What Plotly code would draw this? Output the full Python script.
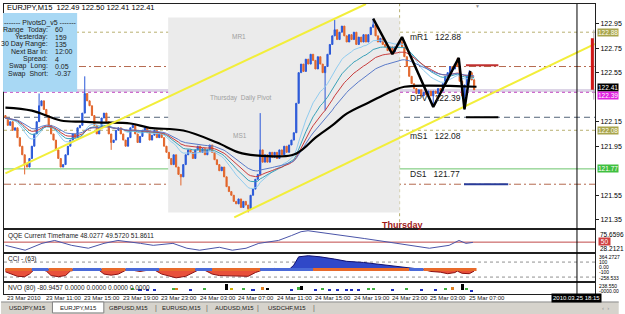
import plotly.graph_objects as go
from plotly.subplots import make_subplots

# ---------------- DATA ----------------
# M15 closes, bar 0 = 23 Mar 2010 07:00 (16 bars per 4 hours)
closes = [
    122.18, 122.12, 122.15, 122.08, 122.10, 122.02, 121.95, 121.88, 121.80, 121.78, 121.85, 121.95, 122.05, 122.15, 122.28, 122.32,
    122.25, 122.20, 122.12, 122.05, 122.00, 121.92, 121.85, 121.78, 121.80, 121.88, 121.95, 122.00, 122.05, 122.02, 122.10, 122.12,
    122.22, 122.38, 122.32, 122.28, 122.20, 122.12, 122.05, 122.10, 122.18, 122.22, 122.15, 122.05, 121.98, 122.00, 122.08, 122.10,
    122.05, 122.00, 121.95, 122.02, 122.10, 122.12, 122.05, 121.98, 122.03, 122.08, 122.10, 122.06, 122.00, 122.04, 122.08, 122.02,
    122.05, 122.02, 121.95, 121.90, 121.85, 121.80, 121.88, 121.78, 121.72, 121.70, 121.80, 121.88, 121.92, 121.90, 121.85, 121.92,
    121.95, 121.90, 121.93, 121.88, 121.92, 121.96, 121.90, 121.84, 121.80, 121.75, 121.78, 121.70, 121.62, 121.58, 121.55, 121.50,
    121.48, 121.52, 121.45, 121.50, 121.47, 121.44, 121.55, 121.60, 121.68, 121.72, 121.92, 121.82, 121.88, 121.82, 121.90, 121.86,
    121.90, 121.85, 121.92, 121.88, 121.95, 121.90, 121.96, 122.00, 122.06, 122.30, 122.55, 122.62, 122.56, 122.66, 122.62, 122.70,
    122.65, 122.58, 122.68, 122.62, 122.55, 122.60, 122.70, 122.78, 122.85, 122.90, 122.82, 122.88, 122.93, 122.85, 122.80, 122.86,
    122.82, 122.88, 122.78, 122.84, 122.80, 122.86, 122.80, 122.86, 122.92, 122.94, 122.85, 122.80, 122.83, 122.78, 122.76, 122.73,
    122.76, 122.72, 122.76, 122.78, 122.80, 122.76, 122.68, 122.60, 122.52, 122.46, 122.42, 122.38, 122.41, 122.36, 122.39, 122.37,
    122.40, 122.36, 122.40, 122.38, 122.42, 122.40, 122.46, 122.52, 122.55, 122.60, 122.58, 122.62, 122.60, 122.48, 122.36, 122.45,
    122.52, 122.55, 122.49, 122.41,
]
first_open = 122.20
spike_high = {14: 122.38, 33: 122.52, 106: 122.22, 137: 122.98, 153: 122.99, 165: 122.84, 188: 122.67, 193: 122.57, 195: 122.50}
spike_low = {8: 121.72, 44: 121.92, 73: 121.63, 101: 121.41, 133: 122.24, 161: 122.70, 178: 122.27, 191: 122.25}

tick_bars = [0, 16, 32, 48, 64, 80, 96, 112, 128, 144, 160, 176, 192]
tick_labels = ["23 Mar 2010", "23 Mar 11:00", "23 Mar 15:00", "23 Mar 19:00", "23 Mar 23:00", "24 Mar 03:00",
               "24 Mar 07:00", "24 Mar 11:00", "24 Mar 15:00", "24 Mar 19:00", "24 Mar 23:00", "25 Mar 03:00", "25 Mar 07:00"]

# slow black MA
black_ma_x = [0, 11, 23, 32, 40, 52, 60, 74, 88, 97, 104, 119, 124, 129, 136, 142, 151, 156, 161, 166, 196]
black_ma_y = [122.265, 122.24, 122.16, 122.15, 122.143, 122.135, 122.10, 122.078, 121.98, 121.90, 121.876, 121.876,
              121.93, 122.02, 122.12, 122.216, 122.305, 122.354, 122.40, 122.435, 122.435]
ema_periods = [18, 26, 34, 45]
ema_colors = ["#8fcbef", "#38a0b8", "#c83c3c", "#5a7ac8"]

zigzag_x = [153, 161, 165, 178, 188.6, 191, 193.4]
zigzag_y = [122.99, 122.70, 122.84, 122.27, 122.67, 122.25, 122.565]

upper_trend_x = [0, 150.0]
upper_trend_y = [121.728, 123.11]
lower_trend_x = [95.2, 245.3]
lower_trend_y = [121.37, 122.785]

prev_day_x = [67.7, 164]
prev_day_range = [121.41, 123.00]
day_sep_bar = 164

pivot_prices = [122.88, 122.60, 122.405, 122.39, 122.186, 122.08, 121.765, 121.64]
pivot_colors = ["#b8b070", "#b56a50", "#dcd4e6", "#c040c0", "#55657a", "#b8b070", "#6cc46c", "#b56a50"]
pivot_dash = ["dot", "7px,3px,2px,3px", "solid", "dot", "6px,4px", "dot", "solid", "7px,3px,2px,3px"]
pivot_width = [1, 1, 3, 1, 1, 1, 1, 1]

short_lines = [(191.6, 205.1, 122.61, "#c03030"), (191.6, 205.1, 122.186, "#000000"), (190.8, 209.2, 121.64, "#283c9a")]

price_ticks = [122.95, 122.75, 122.55, 122.15, 121.95, 121.55, 121.35]
price_boxes = [(122.88, "122.88", "#a8a44c", "#fffff0"), (122.08, "122.08", "#a8a44c", "#fffff0"),
               (121.77, "121.77", "#40c040", "#ffffff"), (122.43, "122.41", "#000000", "#ffffff"),
               (122.36, "122.39", "#e020e0", "#ffffff")]

qqe_x = [0, 8.2, 15.2, 20.5, 27.5, 34.5, 41, 46.8, 56.2, 61.5, 69.7, 75.5, 80.8, 89, 94.4, 100.1, 105.4, 113.6,
         119, 123, 125.9, 135.4, 149.3, 162.9, 176.4, 184.6, 188.7, 191.6, 194.5]
qqe_v = [39.1, 22.5, 45.8, 55.7, 39.1, 29.2, 45.8, 55.7, 45.8, 39.1, 45.8, 29.2, 22.5, 32.5, 22.5, 29.2, 45.8, 55.7,
         72.3, 85.6, 88.9, 79.0, 62.4, 45.8, 29.2, 39.1, 55.7, 45.8, 49.1]

cci_x = [0, 2, 5, 8, 10, 12, 15, 17, 19, 22, 25, 27, 30, 33, 35, 39, 41, 44, 47, 50, 52, 54, 56, 59, 62, 65, 69, 71,
         75, 78, 80, 83, 86, 89, 92, 95, 98, 101, 104, 107, 110, 112, 115, 118, 120, 122, 126, 131, 137, 142, 149,
         153, 159, 165, 170, 174, 177, 181, 184, 187, 188, 190, 193, 195]
cci_v = [-30, -50, -90, -95, -60, 0, 10, -20, -80, -95, -80, -20, 0, 15, 0, -10, -60, -75, -60, -10, 0, -15, -25,
         -10, -5, -60, -100, -110, -90, -40, -10, -10, -60, -80, -85, -80, -95, -90, -40, -5, 10, 15, 5, 0, 60, 170,
         185, 170, 140, 110, 95, 80, 55, 40, 15, 0, -25, -35, -55, -40, -20, -50, -55, -20]
cci_trend = [(0, 11, "o"), (11, 18, "b"), (18, 28, "o"), (28, 40, "b"), (40, 50, "o"), (50, 64, "b"), (64, 79, "o"),
             (79, 86, "b"), (86, 106, "o"), (106, 128, "b"), (128, 168, "o"), (168, 174, "b"), (174, 196, "o")]

nvo_x = [53, 56, 59, 62, 70, 71, 77, 83, 92, 94, 99, 103, 107, 109, 119, 122, 123, 129, 132, 135, 138, 142, 144,
         147, 151, 153, 161, 167, 173, 179, 183, 186, 190, 192, 194]
nvo_v = [10, -8, -8, -8, 12, 18, -6, 8, 55, 18, 8, -6, 25, 10, -8, 20, 30, -6, 8, -8, -10, -10, -10, -8, 8, 12, -6,
         6, -8, -8, 15, 20, 55, 12, -25]
nvo_c = ["g", "b", "b", "b", "g", "o", "b", "g", "k", "y", "g", "b", "o", "k", "b", "g", "k", "b", "g", "b", "b",
         "b", "b", "b", "g", "g", "b", "g", "b", "b", "g", "o", "k", "g", "b"]

crosshair_bar = 237.8
daily_bar_x = 244.2
daily_range = [122.33, 122.90]
daily_body = [122.41, 122.83]

info_rows = [("Range  Today:", "60"), ("Yesterday:", "159"), ("30 Day Range:", "135"), ("Next Bar In:", "12:00"),
             ("Spread:", "4"), ("Swap  Long:", "0.05"), ("Swap  Short:", "-0.37")]
tabs = ["USDJPY,M15", "EURJPY,M15", "GBPUSD,M15", "EURUSD,M15", "AUDUSD,M15", "USDCHF,M15"]
tab_centers = [27, 78, 129, 183, 236, 289]

# ---------------- DERIVED ----------------
n = len(closes)
bars = list(range(n))
opens = [first_open] + closes[:-1]
highs = [max(o, c) for o, c in zip(opens, closes)]
lows = [min(o, c) for o, c in zip(opens, closes)]
for k, v in spike_high.items():
    highs[k] = max(highs[k], v)
for k, v in spike_low.items():
    lows[k] = min(lows[k], v)


def ema(vals, p):
    a = 2.0 / (p + 1)
    e = vals[0]
    out = []
    for v in vals:
        e = e + a * (v - e)
        out.append(e)
    return out


# ---------------- GEOMETRY ----------------
W, H = 625, 314
ML, MR, MT, MB = 3, 24, 3, 20
PW = W - ML - MR
PH = H - MT - MB


def px(xp):
    return (xp - ML) / PW


def py(yp):
    return (H - MB - yp) / PH


FONT = "Liberation Sans"

fig = make_subplots(rows=4, cols=1, shared_xaxes=True, vertical_spacing=0.0)

# main panel
fig.add_trace(go.Candlestick(x=bars, open=opens, high=highs, low=lows, close=closes,
                             increasing=dict(line=dict(color="#2a58d8", width=1), fillcolor="#2a58d8"),
                             decreasing=dict(line=dict(color="#e2662c", width=1), fillcolor="#e2662c"),
                             whiskerwidth=0, showlegend=False, hoverinfo="skip"), row=1, col=1)
for p, col in zip(ema_periods, ema_colors):
    fig.add_trace(go.Scatter(x=bars, y=ema(closes, p), mode="lines", line=dict(color=col, width=1),
                             showlegend=False, hoverinfo="skip"), row=1, col=1)
fig.add_trace(go.Scatter(x=black_ma_x, y=black_ma_y, mode="lines", line=dict(color="#000000", width=2.2, shape="spline"),
                         showlegend=False, hoverinfo="skip"), row=1, col=1)
fig.add_trace(go.Scatter(x=upper_trend_x, y=upper_trend_y, mode="lines", line=dict(color="#f2ee3a", width=2),
                         showlegend=False, hoverinfo="skip"), row=1, col=1)
fig.add_trace(go.Scatter(x=lower_trend_x, y=lower_trend_y, mode="lines", line=dict(color="#f2ee3a", width=2),
                         showlegend=False, hoverinfo="skip"), row=1, col=1)
fig.add_trace(go.Scatter(x=zigzag_x, y=zigzag_y, mode="lines", line=dict(color="#000000", width=2.5),
                         showlegend=False, hoverinfo="skip"), row=1, col=1)

# QQE
fig.add_trace(go.Scatter(x=[bars[0] - 1, 246], y=[50, 50], mode="lines", line=dict(color="#c04848", width=1),
                         showlegend=False, hoverinfo="skip"), row=2, col=1)
fig.add_trace(go.Scatter(x=qqe_x, y=qqe_v, mode="lines", line=dict(color="#4a54a8", width=1),
                         showlegend=False, hoverinfo="skip"), row=2, col=1)

# CCI
cci_pos = [max(v, 0) for v in cci_v]
cci_neg = [min(v, 0) for v in cci_v]
fig.add_trace(go.Scatter(x=cci_x, y=cci_neg, mode="lines", fill="tozeroy", fillcolor="#e8503a",
                         line=dict(color="#8a1010", width=1), showlegend=False, hoverinfo="skip"), row=3, col=1)
fig.add_trace(go.Scatter(x=cci_x, y=cci_pos, mode="lines", fill="tozeroy", fillcolor="#3048c8",
                         line=dict(color="#101070", width=1), showlegend=False, hoverinfo="skip"), row=3, col=1)
tcol = {"o": "#e86a2a", "b": "#4a6ad8"}
for a, b, c in cci_trend:
    fig.add_trace(go.Scatter(x=[a, b], y=[0, 0], mode="lines", line=dict(color=tcol[c], width=3),
                             showlegend=False, hoverinfo="skip"), row=3, col=1)

# NVO
ncol = {"g": "#40b040", "b": "#2030c0", "o": "#e08020", "k": "#000000", "y": "#d0b000"}
fig.add_trace(go.Bar(x=nvo_x, y=nvo_v, marker=dict(color=[ncol[c] for c in nvo_c], line=dict(width=0)),
                     width=1.3, showlegend=False, hoverinfo="skip"), row=4, col=1)

shapes = []
# previous-day box
shapes.append(dict(type="rect", xref="x", yref="y", x0=prev_day_x[0], x1=prev_day_x[1], y0=prev_day_range[0],
                   y1=prev_day_range[1], fillcolor="#ebebeb", line=dict(width=0), layer="below"))
for p, c, d, w in zip(pivot_prices, pivot_colors, pivot_dash, pivot_width):
    shapes.append(dict(type="line", xref="x domain", yref="y", x0=0, x1=1, y0=p, y1=p,
                       line=dict(color=c, width=w, dash=d), layer="below"))
shapes.append(dict(type="line", xref="x", yref="y domain", x0=day_sep_bar, x1=day_sep_bar, y0=0, y1=1,
                   line=dict(color="#b8b070", width=1, dash="dot"), layer="below"))
for a, b, p, c in short_lines:
    shapes.append(dict(type="line", xref="x", yref="y", x0=a, x1=b, y0=p, y1=p, line=dict(color=c, width=2)))
# daily range bar at right edge
shapes.append(dict(type="line", xref="x", yref="y", x0=daily_bar_x + 0.6, x1=daily_bar_x + 0.6, y0=daily_range[0],
                   y1=daily_range[1], line=dict(color="#b0a8b0", width=1)))
shapes.append(dict(type="line", xref="x", yref="y", x0=daily_bar_x, x1=daily_bar_x, y0=daily_body[0],
                   y1=daily_body[1], line=dict(color="#d01818", width=3)))
# CCI levels
for lv in (100, -100):
    shapes.append(dict(type="line", xref="x3 domain", yref="y3", x0=0, x1=1, y0=lv, y1=lv,
                       line=dict(color="#909090", width=1, dash="dot"), layer="below"))
# crosshair
shapes.append(dict(type="line", xref="x", yref="paper", x0=crosshair_bar, x1=crosshair_bar, y0=py(297), y1=1,
                   line=dict(color="#000000", width=1)))
# info box
shapes.append(dict(type="rect", xref="paper", yref="paper", x0=px(2), x1=px(77), y0=py(91), y1=py(12),
                   fillcolor="#a8d8f4", line=dict(width=0), layer="above"))
# tab bar
shapes.append(dict(type="rect", xref="paper", yref="paper", x0=px(0), x1=px(625), y0=py(314), y1=py(302),
                   fillcolor="#d6d3cc", line=dict(width=0)))
shapes.append(dict(type="line", xref="paper", yref="paper", x0=px(0), x1=px(625), y0=py(302), y1=py(302),
                   line=dict(color="#8a8a8a", width=1)))
shapes.append(dict(type="rect", xref="paper", yref="paper", x0=px(52), x1=px(104), y0=py(313), y1=py(302),
                   fillcolor="#ffffff", line=dict(color="#808080", width=1)))

ann = []


def A(xp, yp, text, size=7, color="#000000", xanchor="left", **kw):
    ann.append(dict(x=px(xp), y=py(yp), xref="paper", yref="paper", text=text, showarrow=False,
                    xanchor=xanchor, yanchor="middle", font=dict(family=FONT, size=size, color=color), **kw))


A(4, 7, "EURJPY,M15  122.49 122.50 122.41 122.41", 7.5)
A(482, 5, "▼", 5, "#909090", "center")
# info box text
A(40, 21.7, "------- PivotsD_v5 -------", 7, "#202020", "center")
for i, (lab, val) in enumerate(info_rows):
    yy = 29 + i * 7.3
    A(50, yy, lab, 7, "#202020", "right")
    A(53, yy, val, 7, "#202020", "left")
# pivot labels
A(412, 36, "mR1   122.88", 8.5, "#202020")
A(412, 97, "DPV   122.39", 8.5, "#202020")
A(412, 135, "mS1   122.08", 8.5, "#202020")
A(412, 174, "DS1   121.77", 8.5, "#202020")
A(232, 36, "MR1", 6.5, "#a0a0a0")
A(209, 97, "Thursday  Daily Pivot", 6.5, "#a0a0a0")
A(233, 135, "MS1", 6.5, "#a0a0a0")
A(383, 225, "<b>Thursday</b>", 9, "#a01818")
# price axis boxes
for p, t, bg, fc in price_boxes:
    ann.append(dict(x=px(603), y=p, xref="paper", yref="y", text=t, showarrow=False, xanchor="left",
                    yanchor="middle", bgcolor=bg, borderpad=0, font=dict(family=FONT, size=6.5, color=fc)))
# sub panel texts
A(5, 236, "QQE Current Timeframe 48.0277 49.5720 51.8611", 6.5, "#202020")
A(604, 234, "75.6596", 6.5)
A(604, 241.5, " 50 ", 6.5, "#ffffff", bgcolor="#d04040", borderpad=0)
A(604, 248.5, "28.2121", 6.5)
A(5, 259, "CCI - (63)", 6.5, "#202020")
A(603, 256.5, "364.2727", 5)
A(603, 262, "100", 5)
A(603, 267, "0.00", 5)
A(603, 272, "-100", 5)
A(603, 277.5, "-258.533", 5)
A(5, 288, "NVO (80) -80.9457 0.0000 0.0000 0.0000 0.0000", 6.5, "#202020")
A(603, 286, "238.550", 5)
A(603, 291, "-0000.00", 5)
# date labels
for b, t in zip(tick_bars, tick_labels):
    ann.append(dict(x=b, y=py(298.5), xref="x", yref="paper", text=t, showarrow=False, xanchor="left",
                    yanchor="middle", font=dict(family=FONT, size=6, color="#202020")))
ann.append(dict(x=crosshair_bar, y=py(298.5), xref="x", yref="paper", text="2010.03.25 18:15", showarrow=False,
                xanchor="center", yanchor="middle", bgcolor="#000000", borderpad=1,
                font=dict(family=FONT, size=6, color="#ffffff")))
# tabs
for t, c in zip(tabs, tab_centers):
    A(c, 308.5, t, 6, "#202020", "center")
for sx in (157, 208, 260, 317):
    A(sx, 308.5, "|", 7, "#606060", "center")
A(612, 308.5, "‹  ›", 6, "#909090", "center")

fig.update_layout(
    width=W, height=H, margin=dict(l=ML, r=MR, t=MT, b=MB),
    paper_bgcolor="#ffffff", plot_bgcolor="#ffffff",
    shapes=shapes, annotations=ann, bargap=0, showlegend=False,
    font=dict(family=FONT, size=7),
)
xr = [-0.6, 245.3]
fig.update_xaxes(range=xr, showticklabels=False, ticks="", showgrid=False, zeroline=False,
                 showline=True, mirror=True, linecolor="#202020", linewidth=1, rangeslider_visible=False)

doms = [(py(228), 1.0), (py(252), py(229.5)), (py(281), py(254)), (0.0, py(283))]
fig.update_layout(
    yaxis=dict(domain=list(doms[0]), range=[121.281, 123.110], side="right", tickvals=price_ticks,
               ticktext=[f"{v:.2f}" for v in price_ticks], ticks="outside", ticklen=3, tickcolor="#202020",
               tickfont=dict(family=FONT, size=7, color="#000000"), showgrid=False, zeroline=False,
               showline=True, mirror=True, linecolor="#202020"),
    yaxis2=dict(domain=list(doms[1]), range=[15.9, 92.3], showticklabels=False, ticks="", showgrid=False,
                zeroline=False, showline=True, mirror=True, linecolor="#202020"),
    yaxis3=dict(domain=list(doms[2]), range=[-153, 206], showticklabels=False, ticks="", showgrid=False,
                zeroline=False, showline=True, mirror=True, linecolor="#202020"),
    yaxis4=dict(domain=list(doms[3]), range=[-40, 60], showticklabels=False, ticks="", showgrid=False,
                zeroline=False, showline=True, mirror=True, linecolor="#202020"),
)

fig.write_html("out.html")
